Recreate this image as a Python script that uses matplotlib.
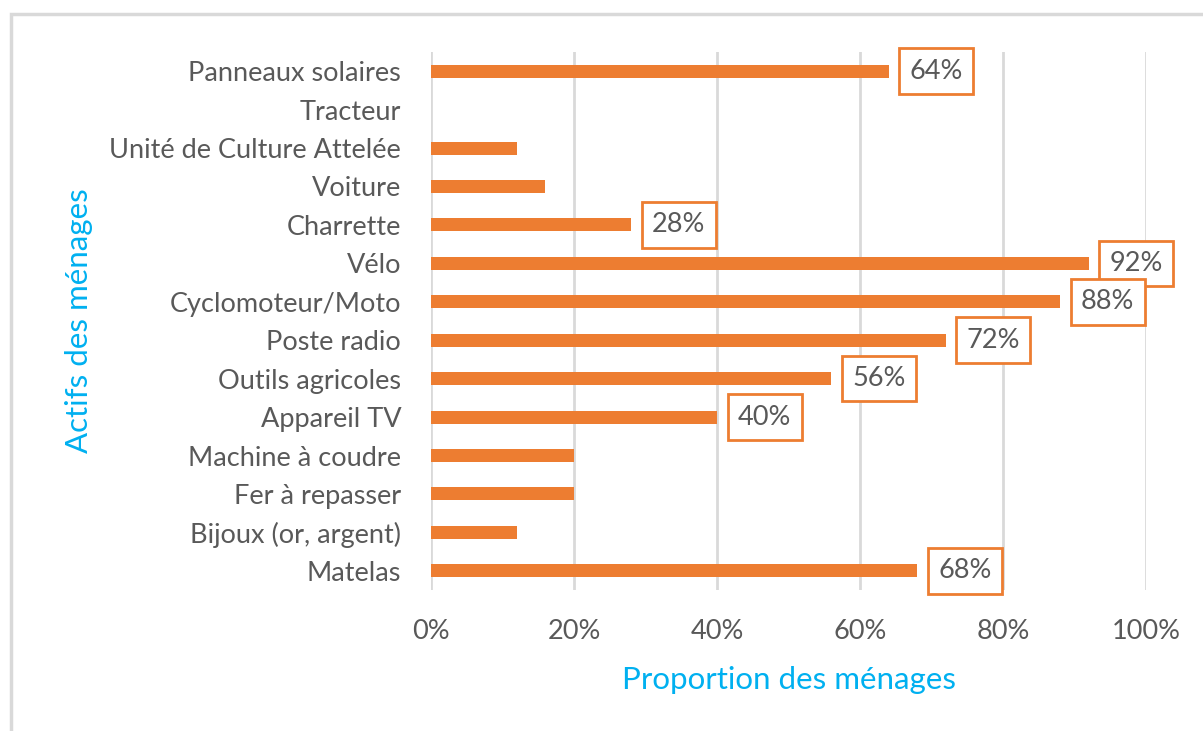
import matplotlib
matplotlib.use("Agg")
import matplotlib.pyplot as plt
from matplotlib.patches import Rectangle

categories = ["Panneaux solaires", "Tracteur", "Unité de Culture Attelée", "Voiture",
              "Charrette", "Vélo", "Cyclomoteur/Moto", "Poste radio", "Outils agricoles",
              "Appareil TV", "Machine à coudre", "Fer à repasser", "Bijoux (or, argent)",
              "Matelas"]
values = [64, 0, 12, 16, 28, 92, 88, 72, 56, 40, 20, 20, 12, 68]
labelled = [True, False, False, False, True, True, True, True, True, True,
            False, False, False, True]
xticks = [0, 20, 40, 60, 80, 100]

plt.rcParams['font.family'] = ['Lato', 'DejaVu Sans']
ORANGE = "#ED7D31"
GRAY = "#595959"
BLUE = "#00B0F0"
FS = 19.5

fig = plt.figure(figsize=(12.03, 7.31), dpi=100)
W, H = 1203, 731
# outer chart frame
fig.patches.append(Rectangle((11 / W, -0.1), 1.2, (731 - 14) / H + 0.1,
                             transform=fig.transFigure, fill=False,
                             edgecolor="#D9D9D9", linewidth=2.5))

ax = fig.add_axes([431 / W, 1 - 590 / H, (1146 - 431) / W, (590 - 52) / H])
n = len(categories)
ypos = list(range(n))
ax.barh(ypos, values, height=0.34, color=ORANGE, zorder=3)
ax.set_ylim(n - 0.5, -0.5)
ax.set_xlim(0, 100)
ax.set_xticks(xticks)
ax.set_xticklabels([f"{t}%" for t in xticks])
ax.set_yticks(ypos)
ax.set_yticklabels(categories)
ax.tick_params(axis='both', length=0, labelsize=FS, colors=GRAY)
ax.tick_params(axis='x', pad=21)
ax.tick_params(axis='y', pad=21.5)
for s in ax.spines.values():
    s.set_visible(False)
ax.grid(axis='x', color="#D9D9D9", linewidth=2, zorder=0)
ax.set_axisbelow(True)

for y, v, lab in zip(ypos, values, labelled):
    if lab:
        ax.annotate(f"{v}%", xy=(v, y), xytext=(15, 0), textcoords="offset points",
                    va="center", ha="left", fontsize=FS, color=GRAY, zorder=5,
                    bbox=dict(boxstyle="square,pad=0.38", facecolor="white",
                              edgecolor=ORANGE, linewidth=2))

ax.set_xlabel("Proportion des ménages", fontsize=22.5, color=BLUE, labelpad=16)
ax.set_ylabel("Actifs des ménages", fontsize=22.5, color=BLUE)
ax.yaxis.set_label_coords(-0.473, 0.5)

fig.savefig("out.png", dpi=100)
